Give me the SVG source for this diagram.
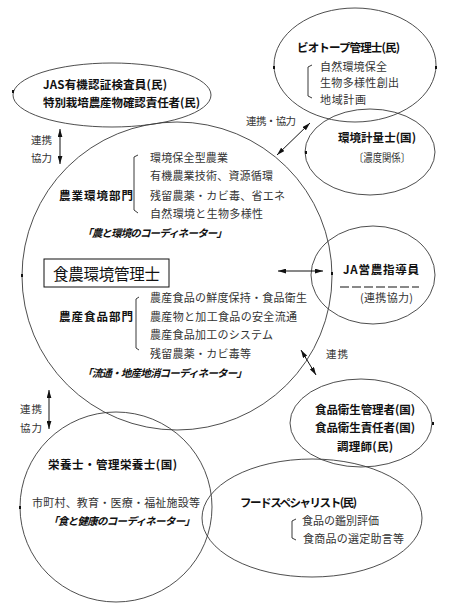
<svg xmlns="http://www.w3.org/2000/svg" width="454" height="616" viewBox="0 0 454 616">
<style>
.e{fill:none;stroke:#3a3a3a;stroke-width:0.9}
text{font-family:"Noto Sans CJK JP","Noto Sans CJK SC",sans-serif;fill:#111;dominant-baseline:central}
.b{font-weight:bold;font-size:11.5px}
.n{font-size:11px;fill:#333}
.i{font-weight:bold;font-style:italic;font-size:10.5px}
.l{font-size:10.5px;fill:#333}
.br{fill:none;stroke:#222;stroke-width:0.9}
.a{stroke:#111;stroke-width:1;fill:none;marker-start:url(#ah);marker-end:url(#ah)}
.m{fill:#111}
</style>
<defs>
<marker id="ah" viewBox="0 0 10 6" refX="10" refY="3" markerWidth="8" markerHeight="5" markerUnits="userSpaceOnUse" orient="auto-start-reverse">
<path d="M0,0 L10,3 L0,6 Z" fill="#111"/>
</marker>
</defs>
<rect width="454" height="616" fill="#fff"/>

<g id="main">
<ellipse class="e" cx="177" cy="276" rx="155" ry="154"/>
<rect x="44" y="259" width="125" height="28" fill="none" stroke="#111" stroke-width="1"/>
<text x="53" y="273" font-size="15.5" textLength="107">食農環境管理士</text>
<text class="b" x="59" y="195" textLength="74">農業環境部門</text>
<path class="br" d="M138,155 L134,157 L134,210 L138,213"/>
<text class="n" x="150" y="157" textLength="78">環境保全型農業</text>
<text class="n" x="150" y="175" textLength="123">有機農業技術、資源循環</text>
<text class="n" x="150" y="195" textLength="135">残留農薬・カビ毒、省エネ</text>
<text class="n" x="150" y="213" textLength="113">自然環境と生物多様性</text>
<text class="i" x="82" y="232" textLength="145">「農と環境のコーディネーター」</text>
<text class="b" x="59" y="316" textLength="74">農産食品部門</text>
<path class="br" d="M139,297 L136,299 L136,348 L139,350"/>
<text class="n" x="150" y="297" textLength="157">農産食品の鮮度保持・食品衛生</text>
<text class="n" x="150" y="316" textLength="147">農産物と加工食品の安全流通</text>
<text class="n" x="150" y="334" textLength="123">農産食品加工のシステム</text>
<text class="n" x="150" y="353" textLength="101">残留農薬・カビ毒等</text>
<text class="i" x="82" y="372" textLength="165">「流通・地産地消コーディネーター」</text>
</g>

<g id="jas">
<ellipse class="e" cx="112" cy="95" rx="99" ry="32"/>
<text class="b" x="43" y="84" textLength="124">JAS有機認証検査員(民)</text>
<text class="b" x="43" y="102" textLength="157">特別栽培農産物確認責任者(民)</text>
</g>

<g id="biotope">
<ellipse class="e" cx="355" cy="65" rx="81" ry="57"/>
<text class="b" x="297" y="47" textLength="103">ビオトープ管理士(民)</text>
<path class="br" d="M312,65 L308,67 L308,96 L312,98"/>
<text class="n" x="320" y="66" textLength="67">自然環境保全</text>
<text class="n" x="320" y="82" textLength="79">生物多様性創出</text>
<text class="n" x="320" y="99" textLength="46">地域計画</text>
</g>

<g id="keiryo">
<ellipse class="e" cx="370" cy="152" rx="65" ry="43"/>
<text class="b" x="338" y="137" textLength="78">環境計量士(国)</text>
<text class="n" x="354" y="157" textLength="56" lengthAdjust="spacingAndGlyphs">〔濃度関係〕</text>
</g>

<g id="ja">
<ellipse class="e" cx="373" cy="275" rx="62" ry="49"/>
<text class="b" x="343" y="269" textLength="76">JA営農指導員</text>
<line x1="340" y1="287" x2="419" y2="287" stroke="#888" stroke-width="2.2" stroke-dasharray="9 3"/>
<text class="n" x="360" y="297" textLength="53">(連携協力)</text>
</g>

<g id="hygiene">
<ellipse class="e" cx="361" cy="423" rx="71" ry="44"/>
<text class="b" x="315" y="409" textLength="100">食品衛生管理者(国)</text>
<text class="b" x="315" y="427" textLength="100">食品衛生責任者(国)</text>
<text class="b" x="337" y="446" textLength="56">調理師(民)</text>
</g>

<g id="eiyo">
<ellipse class="e" cx="116" cy="507" rx="96" ry="95"/>
<text class="b" x="48" y="464" textLength="129">栄養士・管理栄養士(国)</text>
<text class="n" x="32" y="502" textLength="168">市町村、教育・医療・福祉施設等</text>
<text class="i" x="48" y="520" textLength="147">「食と健康のコーディネーター」</text>
</g>

<g id="food">
<ellipse class="e" cx="312" cy="518" rx="110" ry="59"/>
<text class="b" x="240" y="502" textLength="117">フードスペシャリスト(民)</text>
<path class="br" d="M296,519 L292,521 L292,538 L296,540"/>
<text class="n" x="302" y="520" textLength="77">食品の鑑別評価</text>
<text class="n" x="303" y="538" textLength="101">食商品の選定助言等</text>
</g>

<g id="connectors">
<line class="a" x1="60" y1="129" x2="60" y2="164"/>
<text class="l" x="31" y="139" textLength="21">連携</text>
<text class="l" x="31" y="157" textLength="21">協力</text>
<line class="a" x1="310" y1="123" x2="277" y2="155"/>
<text class="l" x="246" y="120" textLength="50">連携・協力</text>
<line class="a" x1="278" y1="271" x2="323" y2="271"/>
<line class="a" x1="301" y1="350" x2="316" y2="375"/>
<text class="l" x="326" y="353" textLength="22">連携</text>
<line class="a" x1="49" y1="390" x2="49" y2="429"/>
<text class="l" x="20" y="408" textLength="22">連携</text>
<text class="l" x="20" y="427" textLength="22">協力</text>
</g>

<g id="marks">
<rect class="m" x="21" y="274" width="2" height="3"/>
<rect class="m" x="331" y="272" width="2" height="3"/>
<rect class="m" x="12" y="90" width="2" height="3"/>
<rect class="m" x="273" y="66" width="2" height="3"/>
<rect class="m" x="435" y="66" width="2" height="3"/>
<rect class="m" x="305" y="151" width="2" height="3"/>
<rect class="m" x="432" y="422" width="2" height="3"/>
<rect class="m" x="19" y="506" width="2" height="3"/>
</g>
</svg>
